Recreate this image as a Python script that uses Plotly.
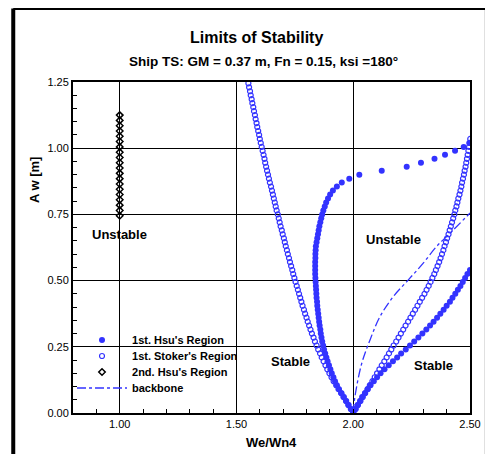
import plotly.graph_objects as go

# Wave amplitude grid (Aw [m]) used by the computed boundary points
aw = [0.000, 0.015, 0.030, 0.045, 0.060, 0.075, 0.090, 0.105, 0.120, 0.135,
      0.150, 0.165, 0.180, 0.195, 0.210, 0.225, 0.240, 0.255, 0.270, 0.285,
      0.300, 0.315, 0.330, 0.345, 0.360, 0.375, 0.390, 0.405, 0.420, 0.435,
      0.450, 0.465, 0.480, 0.495, 0.510, 0.525, 0.540, 0.555, 0.570, 0.585,
      0.600, 0.615, 0.630, 0.645, 0.660, 0.675, 0.690, 0.705, 0.720, 0.735,
      0.750, 0.765, 0.780, 0.795, 0.810, 0.825, 0.840, 0.855, 0.870, 0.885,
      0.900, 0.915, 0.930, 0.945, 0.960, 0.975, 0.990, 1.005, 1.020, 1.035,
      1.050, 1.065, 1.080, 1.095, 1.110, 1.125, 1.140, 1.155, 1.170, 1.185,
      1.200, 1.215, 1.230, 1.245]

# 1st Hsu's region: left boundary (We/Wn4) for aw[0..68]
hsu_left_x = [2.000, 1.990, 1.980, 1.970, 1.960, 1.950, 1.939, 1.930, 1.922, 1.915,
              1.908, 1.902, 1.896, 1.890, 1.885, 1.880, 1.875, 1.871, 1.867, 1.864,
              1.861, 1.859, 1.856, 1.854, 1.852, 1.850, 1.848, 1.846, 1.845, 1.843,
              1.842, 1.841, 1.840, 1.839, 1.838, 1.837, 1.837, 1.837, 1.837, 1.838,
              1.838, 1.839, 1.840, 1.843, 1.846, 1.849, 1.852, 1.855, 1.859, 1.863,
              1.867, 1.872, 1.878, 1.884, 1.892, 1.901, 1.913, 1.930, 1.951, 1.983,
              2.026, 2.122, 2.229, 2.290, 2.348, 2.393, 2.436, 2.473, 2.497]
# 1st Hsu's region: right boundary for aw[0..36]
hsu_right_x = [2.000, 2.010, 2.019, 2.029, 2.038, 2.050, 2.062, 2.074, 2.088, 2.102,
               2.117, 2.134, 2.152, 2.170, 2.188, 2.205, 2.225, 2.243, 2.261, 2.279,
               2.296, 2.313, 2.329, 2.344, 2.359, 2.373, 2.387, 2.400, 2.414, 2.425,
               2.437, 2.448, 2.459, 2.469, 2.479, 2.489, 2.500]
# 1st Stoker's region: left boundary for aw[0..83]
stoker_left_x = [2.000, 1.990, 1.979, 1.969, 1.958, 1.948, 1.937, 1.927, 1.916, 1.907,
                 1.898, 1.889, 1.881, 1.873, 1.865, 1.858, 1.850, 1.843, 1.836, 1.830,
                 1.823, 1.817, 1.811, 1.805, 1.800, 1.794, 1.789, 1.783, 1.778, 1.773,
                 1.768, 1.763, 1.758, 1.753, 1.748, 1.743, 1.739, 1.734, 1.729, 1.725,
                 1.720, 1.716, 1.711, 1.707, 1.703, 1.698, 1.694, 1.689, 1.685, 1.681,
                 1.677, 1.672, 1.668, 1.664, 1.660, 1.656, 1.652, 1.648, 1.643, 1.639,
                 1.635, 1.631, 1.627, 1.623, 1.620, 1.616, 1.612, 1.608, 1.604, 1.600,
                 1.597, 1.593, 1.589, 1.586, 1.582, 1.579, 1.575, 1.572, 1.568, 1.565,
                 1.561, 1.558, 1.554, 1.551]
# 1st Stoker's region: right boundary for aw[0..69]
stoker_right_x = [2.000, 2.010, 2.020, 2.031, 2.041, 2.051, 2.061, 2.071, 2.082, 2.092,
                  2.102, 2.112, 2.122, 2.133, 2.143, 2.153, 2.163, 2.173, 2.184, 2.194,
                  2.204, 2.214, 2.224, 2.235, 2.245, 2.255, 2.265, 2.275, 2.285, 2.295,
                  2.305, 2.314, 2.323, 2.331, 2.339, 2.347, 2.354, 2.361, 2.368, 2.374,
                  2.380, 2.386, 2.391, 2.397, 2.402, 2.408, 2.413, 2.418, 2.423, 2.428,
                  2.433, 2.437, 2.442, 2.446, 2.450, 2.455, 2.459, 2.463, 2.466, 2.470,
                  2.474, 2.477, 2.481, 2.484, 2.487, 2.490, 2.493, 2.496, 2.499, 2.501]

# 2nd Hsu's region
hsu2_x = [1.0, 1.0, 1.0, 1.0, 1.0, 1.0, 1.0, 1.0, 1.0, 1.0,
          1.0, 1.0, 1.0, 1.0, 1.0, 1.0, 1.0, 1.0, 1.0, 1.0]
hsu2_y = [0.745, 0.765, 0.785, 0.805, 0.825, 0.845, 0.865, 0.885, 0.905, 0.925,
          0.945, 0.965, 0.985, 1.005, 1.025, 1.045, 1.065, 1.085, 1.105, 1.125]

# backbone curve
backbone_x = [2.000, 2.007, 2.036, 2.071, 2.114, 2.170, 2.234, 2.298, 2.355, 2.412, 2.500]
backbone_y = [0.000, 0.060, 0.186, 0.274, 0.363, 0.438, 0.501, 0.564, 0.627, 0.677, 0.755]

x_ticks = [1.0, 1.5, 2.0, 2.5]
y_ticks = [0.0, 0.25, 0.5, 0.75, 1.0, 1.25]

BLUE = "#3333FF"
FONT = "Arial, Liberation Sans, sans-serif"

fig = go.Figure()

hx = hsu_left_x + [None] + hsu_right_x
hy = aw[:len(hsu_left_x)] + [None] + aw[:len(hsu_right_x)]
fig.add_trace(go.Scatter(x=hx, y=hy, mode="markers", name="<b>1st. Hsu's Region</b>",
                         legend="legend",
                         marker=dict(symbol="circle", size=6, color=BLUE)))

sx = stoker_left_x + [None] + stoker_right_x
sy = aw[:len(stoker_left_x)] + [None] + aw[:len(stoker_right_x)]
fig.add_trace(go.Scatter(x=sx, y=sy, mode="markers", name="<b>1st. Stoker's Region</b>",
                         legend="legend2",
                         marker=dict(symbol="circle-open", size=5, color=BLUE,
                                     line=dict(width=1.2, color=BLUE))))

fig.add_trace(go.Scatter(x=hsu2_x, y=hsu2_y, mode="markers", name="<b>2nd. Hsu's Region</b>",
                         legend="legend3",
                         marker=dict(symbol="diamond-open", size=5, color="black",
                                     line=dict(width=1.5, color="black"))))

fig.add_trace(go.Scatter(x=backbone_x, y=backbone_y, mode="lines", name="<b>backbone</b>",
                         legend="legend4",
                         line=dict(color=BLUE, width=1.3, dash="dashdot", shape="spline")))

axis_common = dict(showline=True, linecolor="black", linewidth=2, mirror=True,
                   showgrid=True, gridcolor="black", gridwidth=1, zeroline=False,
                   ticks="inside", ticklen=4, tickcolor="black",
                   tickfont=dict(family=FONT, size=11, color="black"))

fig.update_xaxes(range=[0.8, 2.5], tickvals=x_ticks, tickformat=".2f",
                 minor=dict(dtick=0.1, tick0=0.8, ticks="inside", ticklen=4,
                            tickcolor="black", showgrid=False),
                 **axis_common)
fig.update_yaxes(range=[0.0, 1.25], tickvals=y_ticks, tickformat=".2f",
                 minor=dict(dtick=0.05, tick0=0.0, ticks="inside", ticklen=4,
                            tickcolor="black", showgrid=False),
                 **axis_common)

def ann(text, x, y, size, ref="paper", angle=0):
    return dict(text=text, x=x, y=y, xref=ref, yref=ref, showarrow=False,
                xanchor="center", yanchor="middle", textangle=angle,
                font=dict(family=FONT, size=size, color="black"))

annotations = [
    ann("<b>Limits of Stability</b>", 0.461, 1.133, 16),
    ann("<b>Ship TS: GM = 0.37 m, Fn = 0.15, ksi =180°</b>", 0.481, 1.063, 13.5),
    ann("<b>We/Wn4</b>", 0.501, -0.088, 13),
    ann("<b>A w [m]</b>", -0.0956, 0.704, 13, angle=-90),
    ann("<b>Unstable</b>", 1.0, 0.676, 13, ref="x"),
    ann("<b>Unstable</b>", 2.173, 0.657, 13, ref="x"),
    ann("<b>Stable</b>", 1.732, 0.196, 13, ref="x"),
    ann("<b>Stable</b>", 2.343, 0.181, 13, ref="x"),
]
for a in annotations:
    if a["xref"] == "x":
        a["yref"] = "y"

shapes = [
    dict(type="line", xref="paper", yref="paper", x0=-0.1505, x1=-0.1505, y0=1.222, y1=-0.2,
         line=dict(color="black", width=4)),
    dict(type="line", xref="paper", yref="paper", x0=-0.1505, x1=1.04, y0=1.222, y1=1.222,
         line=dict(color="black", width=3)),
    dict(type="line", xref="paper", yref="paper", x0=1.04, x1=1.04, y0=1.222, y1=-0.2,
         line=dict(color="black", width=2)),
]

leg_font = dict(family=FONT, size=11, color="black")
def leg(y):
    return dict(x=-0.0025, y=y, xanchor="left", yanchor="middle",
                bgcolor="rgba(0,0,0,0)", borderwidth=0, itemwidth=50, font=leg_font)

fig.update_layout(
    width=485, height=446,
    margin=dict(l=65, r=19, t=74, b=41),
    paper_bgcolor="white", plot_bgcolor="white",
    showlegend=True,
    legend=leg(0.2205),
    legend2=leg(0.1722),
    legend3=leg(0.1239),
    legend4=leg(0.0755),
    annotations=annotations,
    shapes=shapes,
)

fig.write_html("out.html")
